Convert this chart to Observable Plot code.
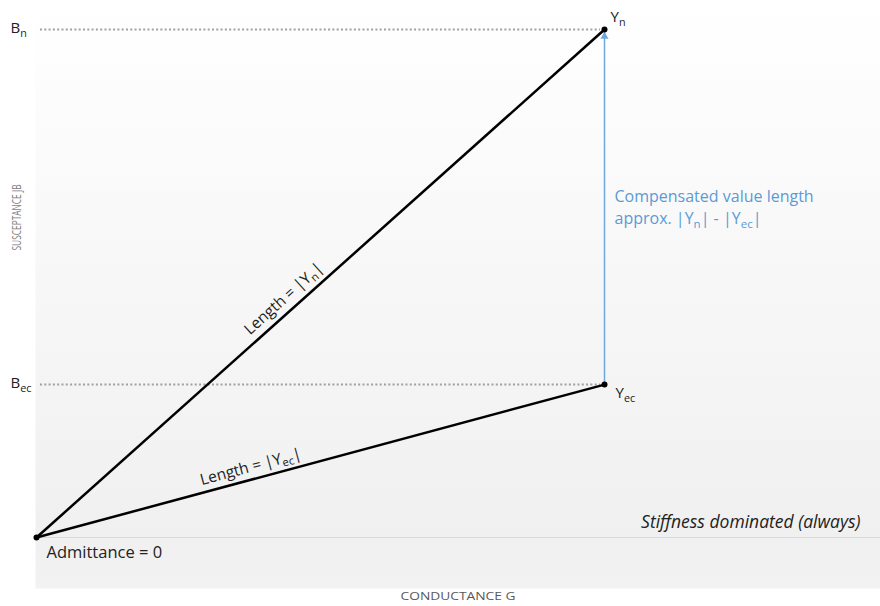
<!DOCTYPE html>
<html><head><meta charset="utf-8">
<script src="https://cdn.jsdelivr.net/npm/d3@7"></script>
<script src="https://cdn.jsdelivr.net/npm/@observablehq/plot@0.6"></script>
<style>
body{margin:0;background:#fff;}
#chart svg{display:block;font-family:"Open Sans",sans-serif;}
</style>
</head><body><div id="chart"></div>
<script>
// Data values
const pointNames   = ["Admittance = 0", "Y_{ec}", "Y_{n}"];
const conductance  = [0, 1, 1];          // G (relative)
const susceptance  = [0, 0.301, 1];      // B (relative)
const levelLabels  = ["B_{n}", "B_{ec}"];
const levelValues  = [1, 0.301];
const xAxisLabel   = "CONDUCTANCE G";
const yAxisLabel   = "SUSCEPTANCE JB";

const points = pointNames.map((name, i) => ({name, G: conductance[i], B: susceptance[i]}));
const origin = points[0], Yec = points[1], Yn = points[2];
const levels = levelLabels.map((label, i) => ({label, B: levelValues[i]}));

// Annotation positions (data space)
const lengthLabels = [
  {text: "Length = |Y_{n}|", G: 0.435, B: 0.470, angle: -41.8},
  {text: "Length = |Y_{ec}|", G: 0.377, B: 0.139, angle: -15.1}
];

const blue = "#6fa8dc";
const ff = "Open Sans, sans-serif";

const chart = Plot.plot({
  width: 880, height: 606,
  marginTop: 0, marginBottom: 18, marginLeft: 35, marginRight: 0,
  x: {domain: [-0.00176, 1.4859], axis: null},
  y: {domain: [-0.1004, 1.0571], axis: null},
  style: {fontFamily: ff, background: "transparent"},
  marks: [
    Plot.frame({fill: "url(#bg)", stroke: "none"}),
    Plot.ruleY([0], {stroke: "#d9d9d9", strokeWidth: 1}),
    Plot.ruleY(levels, {y: "B", x1: 0.007, x2: 0.993, stroke: "#a0a0a0", strokeWidth: 2, strokeDasharray: "2,2.3"}),
    Plot.link([Yec, Yn], {x1: origin.G, y1: origin.B, x2: "G", y2: "B", stroke: "#000", strokeWidth: 2.5}),
    Plot.link([Yn], {x1: Yec.G, y1: Yec.B, x2: "G", y2: "B", stroke: blue, strokeWidth: 1.5}),
    Plot.dot([Yn], {x: "G", y: "B", dy: 7, symbol: "triangle", r: 3, fill: blue, stroke: "none"}),
    Plot.dot(points, {x: "G", y: "B", r: 3, fill: "#000", stroke: "none"}),
    // point labels
    Plot.text([Yn], {x: "G", y: "B", text: "name", dx: 6, dy: -12, textAnchor: "start", fontSize: 15, fill: "#222"}),
    Plot.text([Yec], {x: "G", y: "B", text: "name", dx: 11, dy: 9, textAnchor: "start", fontSize: 15, fill: "#222"}),
    Plot.text([origin], {x: "G", y: "B", text: "name", dx: 10, dy: 15, textAnchor: "start", fontSize: 16.5, fill: "#222"}),
    // level labels
    Plot.text(levels, {x: origin.G, y: "B", text: "label", dx: -26, dy: -1, textAnchor: "start", fontSize: 15, fill: "#222"}),
    // length labels
    Plot.text(lengthLabels, {x: "G", y: "B", text: "text", rotate: "angle", fontSize: 15.5, fill: "#222"}),
    // compensated text
    Plot.text(["Compensated value length\napprox. |Y_{n}| - |Y_{ec}|"], {x: Yn.G, y: 0.652, dx: 10, textAnchor: "start", fontSize: 16, lineHeight: 1.38, fill: "#5b9bd5"}),
    // stiffness
    Plot.text(["Stiffness dominated (always)"], {x: 1.4859, y: 0, dx: -20, dy: -15, textAnchor: "end", fontSize: 17.5, fontStyle: "italic", fill: "#222"}),
    // axis labels
    Plot.text([xAxisLabel], {frameAnchor: "bottom", dy: 11, fontSize: 11.5, fill: "#595959"}),
    Plot.text([yAxisLabel], {x: origin.G, y: 0.63, dx: -19, rotate: -90, fontSize: 12, fill: "#7f7f7f"})
  ]
});

// gradient background
const ns = "http://www.w3.org/2000/svg";
const defs = document.createElementNS(ns, "defs");
defs.innerHTML = `<linearGradient id="bg" x1="0" y1="0" x2="0" y2="1">
  <stop offset="0" stop-color="#ffffff"/>
  <stop offset="0.913" stop-color="#f0f0f0"/>
  <stop offset="1" stop-color="#f2f2f2"/></linearGradient>`;
chart.insertBefore(defs, chart.firstChild);

// stretch/compress axis labels to the reference proportions
const labelLengths = new Map([[xAxisLabel, 115], [yAxisLabel, 66]]);
chart.querySelectorAll("text").forEach(t => {
  const L = labelLengths.get(t.textContent);
  if (L) { t.setAttribute("textLength", L); t.setAttribute("lengthAdjust", "spacingAndGlyphs"); }
});

// subscripts: convert _{..} into tspans
function applySubscripts(root) {
  const els = Array.from(root.querySelectorAll("text, tspan"));
  for (const el of els) {
    if (el.childNodes.length !== 1 || el.firstChild.nodeType !== 3) continue;
    const s = el.textContent;
    if (!s.includes("_{")) continue;
    el.textContent = "";
    const re = /_\{([^}]*)\}/g;
    let last = 0, m, shifted = false;
    while ((m = re.exec(s))) {
      if (m.index > last) {
        const t = document.createElementNS(ns, "tspan");
        if (shifted) { t.setAttribute("dy", "-3.5"); shifted = false; }
        t.textContent = s.slice(last, m.index);
        el.appendChild(t);
      }
      const sub = document.createElementNS(ns, "tspan");
      sub.setAttribute("dy", shifted ? "0" : "3.5");
      sub.setAttribute("font-size", "0.72em");
      sub.textContent = m[1];
      el.appendChild(sub);
      shifted = true;
      last = re.lastIndex;
    }
    if (last < s.length) {
      const t = document.createElementNS(ns, "tspan");
      if (shifted) t.setAttribute("dy", "-3.5");
      t.textContent = s.slice(last);
      el.appendChild(t);
    }
  }
}
applySubscripts(chart);
document.getElementById("chart").appendChild(chart);
</script>
</body></html>
